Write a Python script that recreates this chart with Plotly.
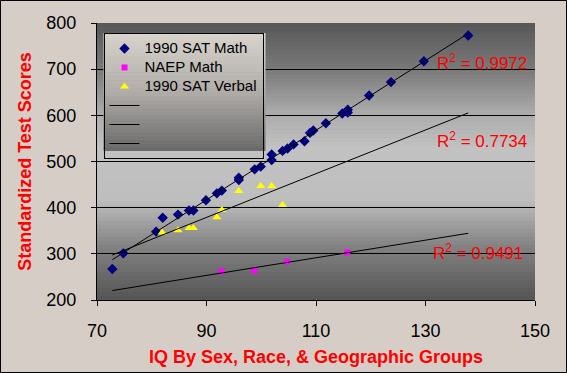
import numpy as np
import plotly.graph_objects as go

# ---------------- data ----------------
sat_math_iq = [72.8, 74.8, 80.8, 82.0, 84.8, 86.8, 87.6, 89.9, 91.9, 92.8, 95.9, 95.9,
               98.8, 99.9, 101.9, 101.9, 103.9, 104.8, 105.9, 107.9, 108.9, 109.5,
               111.8, 114.8, 115.8, 115.8, 119.7, 123.7, 129.7, 137.8]
sat_math_score = [267, 301, 348, 378, 385, 394, 394, 416, 431, 437, 465, 460,
                  483, 489, 515, 503, 523, 528, 537, 544, 562, 567,
                  583, 604, 612, 606, 643, 672, 717, 773]

naep_iq = [92.7, 98.7, 104.7, 115.7]
naep_score = [262, 264, 283, 303]

sat_verbal_iq = [81.9, 84.8, 86.8, 87.6, 91.9, 92.8, 95.9, 99.9, 101.9, 103.9]
sat_verbal_score = [346, 351, 356, 356, 379, 395, 436, 447, 447, 406]

series_names = ["1990 SAT Math", "NAEP Math", "1990 SAT Verbal"]
r2_labels = ["R<sup>2</sup> = 0.9972", "R<sup>2</sup> = 0.7734", "R<sup>2</sup> = 0.9491"]
r2_x = [148.9, 148.9, 148.2]
r2_y = [715, 547, 303]

x_ticks = [70, 90, 110, 130, 150]
y_ticks = [200, 300, 400, 500, 600, 700, 800]

# ---------------- figure ----------------
W, H = 567, 373
ML, MR, MT, MB = 97, 32, 23, 73
PW, PH = W - ML - MR, H - MT - MB

FONT = "Arial, Liberation Sans, sans-serif"
fig = go.Figure()


def leg(t):
    return f'<span style="font-size:15px">{t}</span>'


fig.add_trace(go.Scatter(x=sat_math_iq, y=sat_math_score, mode="markers", name=leg(series_names[0]),
                         marker=dict(symbol="diamond", size=8, color="#000080")))
fig.add_trace(go.Scatter(x=naep_iq, y=naep_score, mode="markers", name=leg(series_names[1]),
                         marker=dict(symbol="square", size=6, color="#ff00ff")))
fig.add_trace(go.Scatter(x=sat_verbal_iq, y=sat_verbal_score, mode="markers", name=leg(series_names[2]),
                         marker=dict(symbol="triangle-up", size=8, color="#ffff00")))

# linear trend lines (least squares), spanning the IQ range of the full data set
x_lo, x_hi = min(sat_math_iq), max(sat_math_iq)
line_x = np.array([x_lo, x_hi])
for xs, ys, nm in [(sat_math_iq, sat_math_score, " "), (naep_iq, naep_score, "  "),
                   (sat_verbal_iq, sat_verbal_score, "   ")]:
    k, b = np.polyfit(xs, ys, 1)
    fig.add_trace(go.Scatter(x=line_x, y=k * line_x + b, mode="lines", name=nm,
                             line=dict(color="black", width=1)))

for t, xx, yy in zip(r2_labels, r2_x, r2_y):
    fig.add_annotation(x=xx, y=yy, text=t, showarrow=False, xanchor="right", yanchor="middle",
                       font=dict(family=FONT, size=17, color="#ff0000"))

# plot-area vertical gradient (dark - light - dark)
stops = [(0.0, 84), (0.2, 132), (0.36, 190), (0.55, 194), (0.68, 170), (0.83, 122), (1.0, 86)]
N = 70
shapes = []
for i in range(N):
    f0, f1 = i / N, (i + 1) / N
    fm = (f0 + f1) / 2
    v = int(round(np.interp(fm, [s[0] for s in stops], [s[1] for s in stops])))
    c = f"rgb({v},{v},{v})"
    shapes.append(dict(type="rect", xref="paper", yref="paper", x0=0, x1=1, y0=f0, y1=min(1, f1 + 0.002),
                       fillcolor=c, line=dict(width=0), layer="below"))

# legend gradient background (light top -> dark bottom)
LX0, LY0, LW, LH = 6.5, 10.0, 162.0, 118.0  # px from plot area left/top
lstops = [(0.0, (216, 212, 204)), (0.5, (176, 172, 168)), (1.0, (104, 104, 104))]
NL = 30
for i in range(NL):
    g = (i + 0.5) / NL
    col = [int(round(np.interp(g, [s[0] for s in lstops], [s[1][j] for s in lstops]))) for j in range(3)]
    y_top = LY0 + LH * i / NL
    y_bot = min(LY0 + LH, LY0 + LH * (i + 1) / NL + 0.5)
    shapes.append(dict(type="rect", xref="paper", yref="paper",
                       x0=LX0 / PW, x1=(LX0 + LW) / PW,
                       y0=1 - y_bot / PH, y1=1 - y_top / PH,
                       fillcolor=f"rgb({col[0]},{col[1]},{col[2]})", line=dict(width=0), layer="above"))

# outer figure border
shapes.append(dict(type="rect", xref="paper", yref="paper",
                   x0=-(ML - 0.5) / PW, x1=1 + (MR - 0.5) / PW,
                   y0=-(MB - 0.5) / PH, y1=1 + (MT - 0.5) / PH,
                   line=dict(color="black", width=1), fillcolor="rgba(0,0,0,0)", layer="above"))

fig.update_layout(
    width=W, height=H,
    margin=dict(l=ML, r=MR, t=MT, b=MB, pad=0, autoexpand=False),
    paper_bgcolor="#d6cec6",
    plot_bgcolor="#a0a0a0",
    font=dict(family=FONT, size=18, color="black"),
    shapes=shapes,
    showlegend=True,
    legend=dict(x=LX0 / PW, y=1 - LY0 / PH, xanchor="left", yanchor="top",
                bgcolor="rgba(0,0,0,0)", bordercolor="black", borderwidth=1,
                font=dict(family=FONT, size=12, color="black"),
                itemwidth=30, tracegroupgap=0),
    xaxis=dict(range=[70, 150], tickvals=x_ticks, ticks="outside", ticklen=5, tickcolor="black",
               showline=True, linecolor="black", linewidth=1, showgrid=False, zeroline=False,
               automargin=False, ticklabelstandoff=9,
               tickfont=dict(family=FONT, size=18, color="black"),
               title=dict(text="<b>IQ By Sex, Race, & Geographic Groups</b>", standoff=10,
                          font=dict(family=FONT, size=18, color="#ff0000"))),
    yaxis=dict(range=[200, 800], tickvals=y_ticks, ticks="outside", ticklen=5, tickcolor="black",
               showline=True, linecolor="black", linewidth=1, showgrid=True, gridcolor="black",
               gridwidth=1, zeroline=False, automargin=False,
               tickfont=dict(family=FONT, size=18, color="black"), ticklabelstandoff=11,
               title=dict(text="<b>Standardized Test Scores</b>", standoff=10,
                          font=dict(family=FONT, size=18, color="#ff0000"))),
)

fig.write_html("out.html", config={"displayModeBar": False},
               post_script="document.body.style.margin='0px';")
